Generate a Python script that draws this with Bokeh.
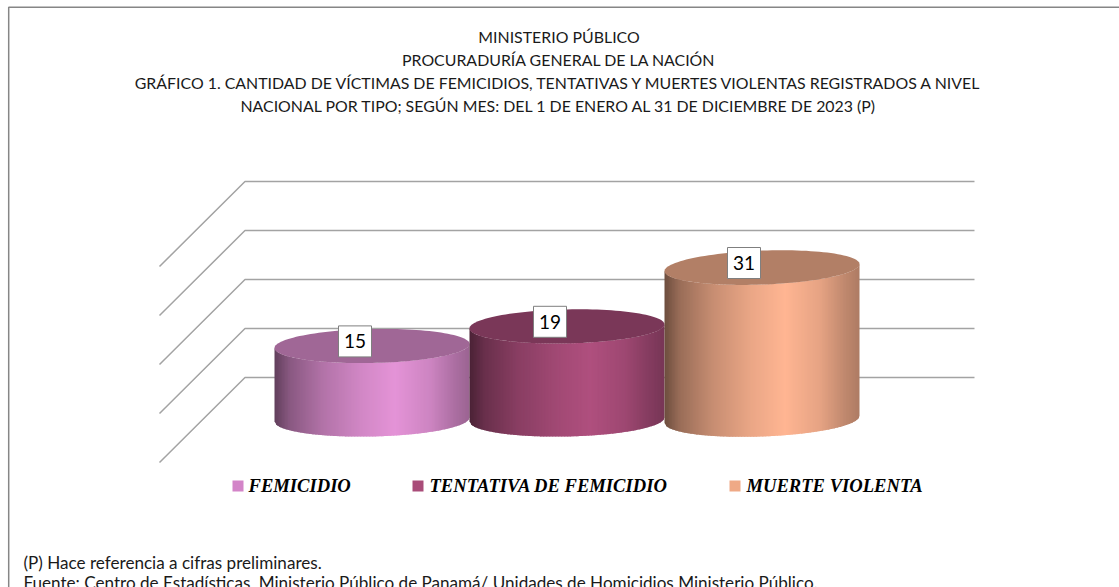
import math
from bokeh.plotting import figure
from bokeh.embed import file_html
from bokeh.resources import INLINE
from bokeh.core.properties import value
from bokeh.models import Range1d

categories = ["FEMICIDIO", "TENTATIVA DE FEMICIDIO", "MUERTE VIOLENTA"]
values = [15, 19, 31]
grid_values = [0, 10, 20, 30, 40]
title_lines = [
    "MINISTERIO PÚBLICO",
    "PROCURADURÍA GENERAL DE LA NACIÓN",
    "GRÁFICO 1. CANTIDAD DE VÍCTIMAS DE FEMICIDIOS, TENTATIVAS Y MUERTES VIOLENTAS REGISTRADOS A NIVEL",
    "NACIONAL POR TIPO; SEGÚN MES: DEL 1 DE ENERO AL 31 DE DICIEMBRE DE 2023 (P)",
]
notes = [
    "(P) Hace referencia a cifras preliminares.",
    "Fuente: Centro de Estadísticas, Ministerio Público de Panamá/ Unidades de Homicidios Ministerio Público.",
]
body_colors = [(228, 147, 215), (175, 79, 126), (255, 181, 146)]
legend_colors = ["#D384C8", "#A94C79", "#EFA986"]

W, H = 1119, 587
X0, XS = 274.0, 195.0   # pixel of category 0, pixels per category
Y0, YS = 419.0, 4.9     # pixel of value 0, pixels per unit
RY = 17.0               # ellipse half height in pixels
TILT = [2.0, 2.0, 3.5]  # ellipse tilt in pixels


def PX(px):
    return (px - X0) / XS


def PY(py):
    return (Y0 - py) / YS


p = figure(width=W, height=H, output_backend="svg", toolbar_location=None,
           x_range=Range1d(PX(0), PX(W)), y_range=Range1d(PY(H), PY(0)),
           min_border=0, margin=(0, 0, 0, 0))
p.axis.visible = False
p.grid.visible = False
p.outline_line_color = None
p.background_fill_color = "white"

# frame
p.line([PX(8.2), PX(8.2), PX(1125)], [PY(600), PY(6.8), PY(6.8)],
       line_color="#868686", line_width=1.5)

# walls (gridlines)
BACK = 42.0 / YS
for v in grid_values:
    y = v + BACK
    p.line([PX(159), PX(244.5), PX(974)],
           [y - 85 / YS, y, y], line_color="#a3a3a3", line_width=1.5)


def shade(rgb, f):
    return "#%02x%02x%02x" % tuple(min(255, int(round(c * f))) for c in rgb)


STOPS = [(0, .42), (.08, .60), (.25, .78), (.45, .92), (.62, 1.0), (.8, .9), (.92, .76), (1, .68)]


def factor(s):
    for (a, fa), (b, fb) in zip(STOPS, STOPS[1:]):
        if s <= b:
            return fa + (fb - fa) * (s - a) / (b - a)
    return STOPS[-1][1]


def edge(u, sign, k):
    return sign * RY * math.sqrt(max(0, 1 - u * u)) + k * u


N = 130
for i, v in enumerate(values):
    k = TILT[i]
    xs, ys, cols = [], [], []
    for j in range(N):
        s0, s1 = j / N, (j + 1.6) / N
        s1 = min(s1, 1)
        u0, u1 = 2 * s0 - 1, 2 * s1 - 1
        xs.append([i + s0, i + s1, i + s1, i + s0])
        ys.append([
            edge(u0, -1, k) / YS,
            edge(u1, -1, k) / YS,
            v + edge(u1, -1, k) / YS,
            v + edge(u0, -1, k) / YS,
        ])
        cols.append(shade(body_colors[i], factor((s0 + s1) / 2)))
    p.patches(xs, ys, fill_color=cols, line_color=None)
    # top ellipse
    T = [2 * math.pi * t / 120 for t in range(120)]
    ex = [i + 0.5 + 0.5 * math.cos(t) for t in T]
    ey = [v + (RY * math.sin(t) + k * math.cos(t)) / YS for t in T]
    p.patch(ex, ey, fill_color=shade(body_colors[i], 0.70), line_color=None)

# data labels
for i, v in enumerate(values):
    cx = i + 0.5 - (17 + (i == 2)) / XS
    cy = v + 4.6 / YS
    p.rect([cx], [cy], width=33 / XS, height=31 / YS, fill_color="white",
           line_color="#7f7f7f", line_width=1)
    p.text([cx], [cy], text=[str(v)], text_align="center", text_baseline="middle",
           text_font=value("Lato"), text_font_size="19px", text_color="black")

# titles
for py, line in zip([36, 59, 82, 105], title_lines):
    p.text([PX(558.5)], [PY(py)], text=[line], text_align="center", text_baseline="middle",
           text_font=value("Lato"), text_font_size="15.9px", text_color="#1a1a1a")

# legend
for sx, tx, c, name in zip([232, 412, 729], [248, 429, 746], legend_colors, categories):
    p.rect([PX(sx + 5.5)], [PY(485.5)], width=11 / XS, height=11 / YS, fill_color=c, line_color=None)
    p.text([PX(tx)], [PY(485)], text=[name], text_align="left", text_baseline="middle",
           text_font=value("Liberation Serif"), text_font_size="18.6px",
           text_font_style="bold italic", text_color="black")

# notes
for py, line in zip([562, 582], notes):
    p.text([PX(23)], [PY(py)], text=[line], text_align="left", text_baseline="middle",
           text_font=value("Lato"), text_font_size="17.1px", text_color="#1a1a1a")

open("out.html", "w").write(file_html(p, INLINE))
